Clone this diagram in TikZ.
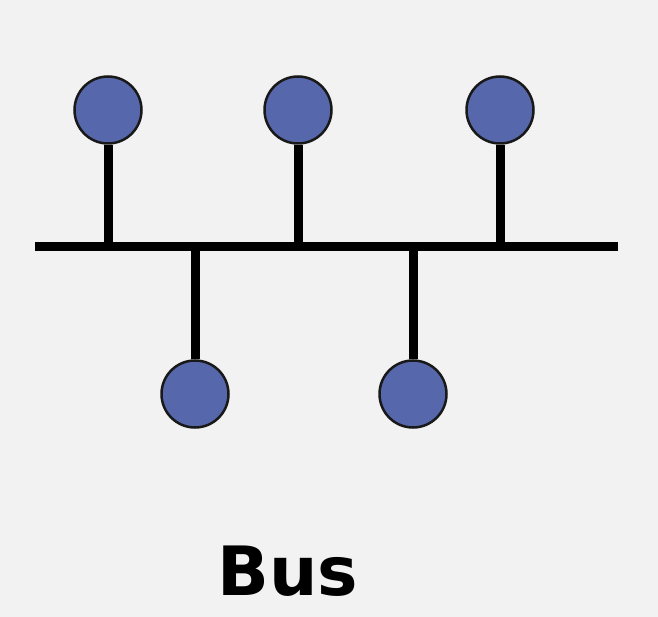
\documentclass[tikz,border=0pt]{standalone}
\usepackage{fontspec}
\setmainfont{DejaVu Sans}
\definecolor{bg}{HTML}{F2F2F2}
\definecolor{nodefill}{HTML}{5767AB}
\begin{document}
\begin{tikzpicture}[x=1pt,y=-1pt,
  station/.style={circle,draw=black!90,line width=2.5pt,fill=nodefill,minimum size=67pt,inner sep=0pt},
  wire/.style={line width=9pt,black}]
\fill[bg] (0,0) rectangle (658,617);
\useasboundingbox (0,0) rectangle (658,617);
\coordinate (busL) at (35,247);
\coordinate (busR) at (618,247);
\coordinate (j1) at (108,247);
\coordinate (j2) at (298,247);
\coordinate (j3) at (500,247);
\coordinate (j4) at (195,247);
\coordinate (j5) at (413,247);
\draw[wire] (busL) -- (busR);
\node[station] (t1) at (108,110) {};
\node[station] (t2) at (298,110) {};
\node[station] (t3) at (500,110) {};
\node[station] (b1) at (195,394) {};
\node[station] (b2) at (413,394) {};
\draw[wire] (t1) -- (j1);
\draw[wire] (t2) -- (j2);
\draw[wire] (t3) -- (j3);
\draw[wire] (b1) -- (j4);
\draw[wire] (b2) -- (j5);
\node[font=\bfseries\fontsize{68}{70}\selectfont,anchor=base] (label) at (288,595) {Bus};
\end{tikzpicture}
\end{document}
